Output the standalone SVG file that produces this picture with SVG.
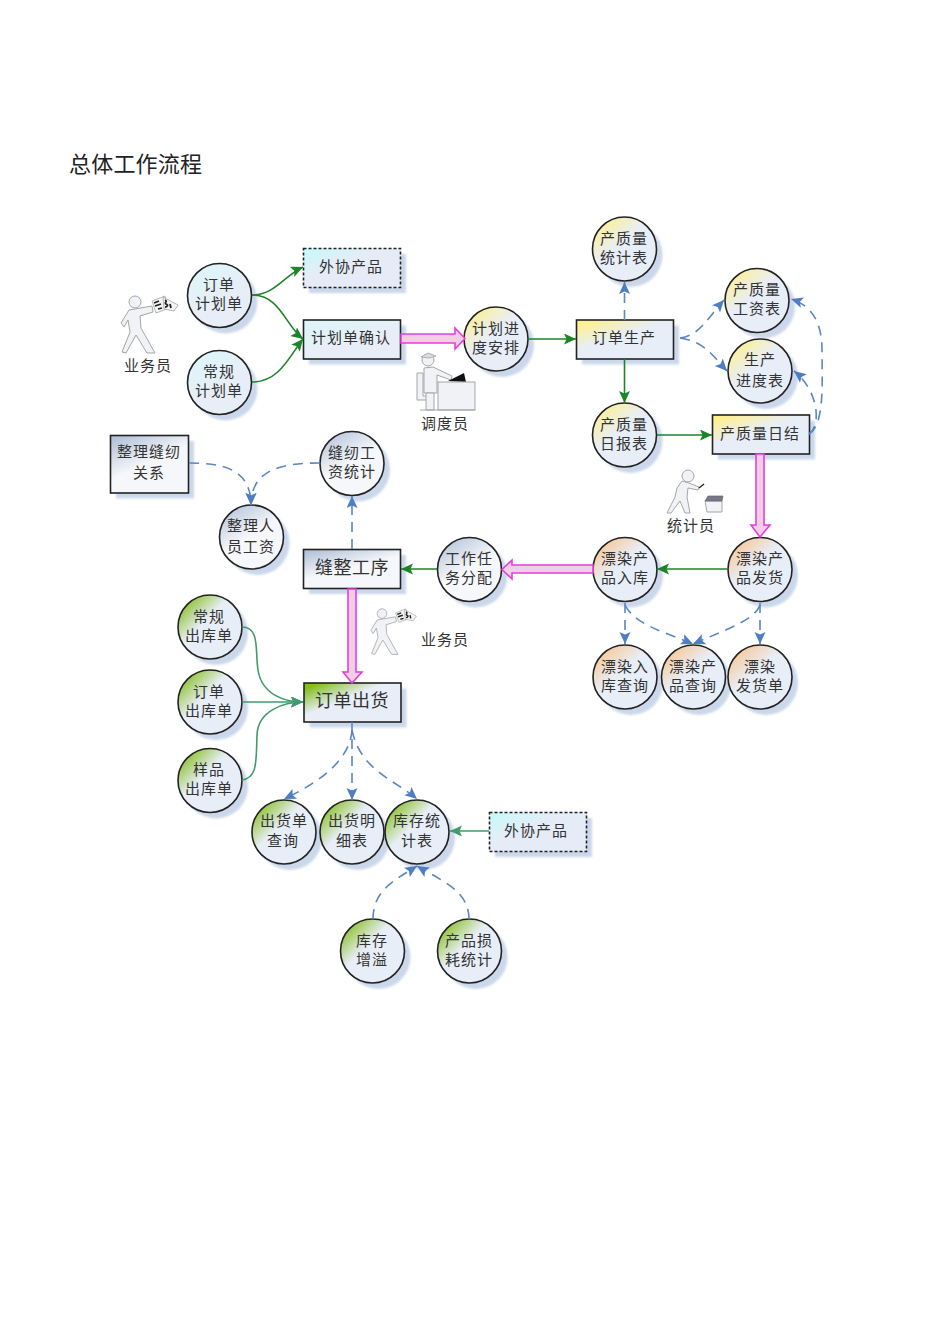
<svg xmlns="http://www.w3.org/2000/svg" width="950" height="1344" viewBox="0 0 950 1344">
<style>
text{font-family:"Noto Sans CJK SC","Liberation Sans",sans-serif;fill:#333;font-size:15px;letter-spacing:1px;text-anchor:middle}
.big{font-size:18px;letter-spacing:.5px}
.title{font-size:22px;letter-spacing:.2px;text-anchor:start;fill:#222}
.sh{fill:#c6d3e8;opacity:.9;filter:url(#blur)}
.n{stroke:#222;stroke-width:1.6}
.dash{stroke-dasharray:3 2}
.blue{fill:url(#gBlue)}.yel{fill:url(#gYel)}.ora{fill:url(#gOra)}.grn{fill:url(#gGrn)}.gry{fill:url(#gGry)}.cya{fill:url(#gCya)}
.g{fill:none;stroke:#1d8428;stroke-width:1.6;marker-end:url(#mG)}
.t{fill:none;stroke:#3f9b6c;stroke-width:1.6;marker-end:url(#mT)}
.b{fill:none;stroke:#5a86c4;stroke-width:1.6;stroke-dasharray:10 7;marker-end:url(#mB)}
.p{fill:#f0cfe4;stroke:#e63ce0;stroke-width:1.6}
.fig{fill:#f1f2f5;stroke:#a4a6a8;stroke-width:1}
</style>
<defs>
<filter id="blur" x="-20%" y="-20%" width="140%" height="140%"><feGaussianBlur stdDeviation="1.2"/></filter>
<linearGradient id="gBlue" x1="0.15" y1="0" x2="0.55" y2="0.55"><stop offset="0" stop-color="#dcf6fa"/><stop offset="1" stop-color="#e8eef8"/></linearGradient>
<linearGradient id="gCya" x1="0" y1="0" x2="0.4" y2="0.4"><stop offset="0" stop-color="#c4fbfb"/><stop offset="1" stop-color="#e6ecf7"/></linearGradient>
<linearGradient id="gYel" x1="0.12" y1="0.02" x2="0.45" y2="0.42"><stop offset="0" stop-color="#fff08c"/><stop offset="1" stop-color="#e8eef8"/></linearGradient>
<linearGradient id="gOra" x1="0.12" y1="0.02" x2="0.45" y2="0.42"><stop offset="0" stop-color="#f9c48e"/><stop offset="1" stop-color="#e8eef8"/></linearGradient>
<linearGradient id="gGrn" x1="0.08" y1="0.08" x2="0.42" y2="0.42"><stop offset="0" stop-color="#84bd1c"/><stop offset="1" stop-color="#e8eef8"/></linearGradient>
<linearGradient id="gGry" x1="0.15" y1="0" x2="0.45" y2="0.5"><stop offset="0" stop-color="#b4c3da"/><stop offset="1" stop-color="#f6f7fa"/></linearGradient>
<marker id="mG" markerUnits="userSpaceOnUse" markerWidth="13" markerHeight="12" refX="12" refY="5.500" orient="auto"><path d="M0 0L12 5.500L0 11L2.500 5.500Z" fill="#1d8428"/></marker>
<marker id="mT" markerUnits="userSpaceOnUse" markerWidth="13" markerHeight="12" refX="12" refY="5.500" orient="auto"><path d="M0 0L12 5.500L0 11L2.500 5.500Z" fill="#3f9b6c"/></marker>
<marker id="mB" markerUnits="userSpaceOnUse" markerWidth="13" markerHeight="12" refX="12" refY="5.500" orient="auto"><path d="M0 0L12 5.500L0 11L2.500 5.500Z" fill="#4f7fc2"/></marker>
<g id="walker">
<circle class="fig" cx="135" cy="302" r="6"/>
<path class="fig" d="M129 310L152 306L153 312L140 316L141 328L155 353L147 353L136 335L126 353L122 352L130 332L128 320L124 327L121 323Z"/>
<path d="M152 301L165 296L167 309L156 313Z" fill="#f4f4f4" stroke="#999" stroke-width=".7"/>
<path d="M163 297L178 305L174 311L164 309Z" fill="#f4f4f4" stroke="#999" stroke-width=".7"/>
<path d="M154 303l5-2M155 306l6-2M158 309l4-1M165 300c3 1-1 3 1 4c3 1 1 3-1 3M170 304l1 4" fill="none" stroke="#222" stroke-width="1.800"/>
</g>
</defs>
<rect width="950" height="1344" fill="#fff"/>
<text class="title" x="69" y="172">总体工作流程</text>

<g id="n-dingdan"><circle class="sh" cx="225.500" cy="301.500" r="32"/><circle class="n blue" cx="219.500" cy="295.500" r="32"/><text x="219" y="290">订单</text><text x="219" y="309">计划单</text></g>
<g id="n-changgui"><circle class="sh" cx="225.500" cy="388.500" r="32"/><circle class="n blue" cx="219.500" cy="382.500" r="32"/><text x="219" y="377">常规</text><text x="219" y="396">计划单</text></g>
<g id="n-waixie1"><rect class="sh" x="309" y="254" width="97" height="39"/><rect class="n dash cya" x="303.500" y="248.500" width="97" height="39"/><text x="351" y="272">外协产品</text></g>
<g id="n-queren"><rect class="sh" x="309" y="325.500" width="97" height="39"/><rect class="n blue" x="303.500" y="320" width="97" height="39"/><text x="351" y="343">计划单确认</text></g>
<g id="n-jindu"><circle class="sh" cx="502" cy="345" r="32"/><circle class="n yel" cx="496" cy="339" r="32"/><text x="496" y="334">计划进</text><text x="496" y="353">度安排</text></g>
<g id="n-shengchan"><rect class="sh" x="582" y="325.500" width="97" height="39"/><rect class="n yel" x="576.500" y="320" width="97" height="39"/><text x="624" y="343">订单生产</text></g>
<g id="n-tongji"><circle class="sh" cx="630.500" cy="255" r="32"/><circle class="n yel" cx="624.500" cy="249" r="32"/><text x="624" y="244">产质量</text><text x="624" y="263">统计表</text></g>
<g id="n-gongzi"><circle class="sh" cx="763" cy="306.500" r="32"/><circle class="n yel" cx="757" cy="300.500" r="32"/><text x="757" y="295">产质量</text><text x="757" y="314">工资表</text></g>
<g id="n-jindubiao"><circle class="sh" cx="766" cy="377" r="32"/><circle class="n yel" cx="760" cy="371" r="32"/><text x="760" y="365">生产</text><text x="760" y="386">进度表</text></g>
<g id="n-ribao"><circle class="sh" cx="630.500" cy="441" r="32"/><circle class="n yel" cx="624.500" cy="435" r="32"/><text x="624" y="430">产质量</text><text x="624" y="449">日报表</text></g>
<g id="n-rijie"><rect class="sh" x="718" y="420.500" width="97" height="39"/><rect class="n yel" x="712.500" y="415" width="97" height="39"/><text x="760" y="439">产质量日结</text></g>
<g id="n-fahuo"><circle class="sh" cx="766" cy="575.500" r="32"/><circle class="n ora" cx="760" cy="569.500" r="32"/><text x="760" y="564">漂染产</text><text x="760" y="583">品发货</text></g>
<g id="n-ruku"><circle class="sh" cx="631" cy="575.500" r="32"/><circle class="n ora" cx="625" cy="569.500" r="32"/><text x="625" y="564">漂染产</text><text x="625" y="583">品入库</text></g>
<g id="n-renwu"><circle class="sh" cx="475.500" cy="575.500" r="32"/><circle class="n gry" cx="469.500" cy="569.500" r="32"/><text x="469" y="564">工作任</text><text x="469" y="583">务分配</text></g>
<g id="n-fengzheng"><rect class="sh" x="309" y="555" width="97" height="39"/><rect class="n gry" x="303.500" y="549.500" width="97" height="39"/><text class="big" x="352" y="574">缝整工序</text></g>
<g id="n-rukucx"><circle class="sh" cx="631" cy="683" r="32"/><circle class="n ora" cx="625" cy="677" r="32"/><text x="625" y="672">漂染入</text><text x="625" y="691">库查询</text></g>
<g id="n-chanpincx"><circle class="sh" cx="699.500" cy="683" r="32"/><circle class="n ora" cx="693.500" cy="677" r="32"/><text x="693" y="672">漂染产</text><text x="693" y="691">品查询</text></g>
<g id="n-fahuodan"><circle class="sh" cx="766" cy="683" r="32"/><circle class="n ora" cx="760" cy="677" r="32"/><text x="760" y="672">漂染</text><text x="760" y="691">发货单</text></g>
<g id="n-guanxi"><rect class="sh" x="116" y="441" width="78" height="57.500"/><rect class="n gry" x="110.500" y="435.500" width="78" height="57.500"/><text x="149" y="457">整理缝纫</text><text x="149" y="478">关系</text></g>
<g id="n-gongzitj"><circle class="sh" cx="358" cy="469.500" r="32"/><circle class="n gry" cx="352" cy="463.500" r="32"/><text x="352" y="458">缝纫工</text><text x="352" y="477">资统计</text></g>
<g id="n-renyuan"><circle class="sh" cx="257.500" cy="543" r="32"/><circle class="n gry" cx="251.500" cy="537" r="32"/><text x="251" y="531">整理人</text><text x="251" y="552">员工资</text></g>
<g id="n-chuhuo"><rect class="sh" x="309.500" y="688.500" width="97" height="39"/><rect class="n grn" x="304" y="683" width="97" height="39"/><text class="big" x="352" y="707">订单出货</text></g>
<g id="n-cg"><circle class="sh" cx="216" cy="633" r="32"/><circle class="n grn" cx="210" cy="627" r="32"/><text x="209" y="622">常规</text><text x="209" y="641">出库单</text></g>
<g id="n-dd"><circle class="sh" cx="216" cy="708" r="32"/><circle class="n grn" cx="210" cy="702" r="32"/><text x="209" y="697">订单</text><text x="209" y="716">出库单</text></g>
<g id="n-yp"><circle class="sh" cx="216" cy="786.500" r="32"/><circle class="n grn" cx="210" cy="780.500" r="32"/><text x="209" y="775">样品</text><text x="209" y="794">出库单</text></g>
<g id="n-chd"><circle class="sh" cx="290" cy="838" r="32"/><circle class="n grn" cx="284" cy="832" r="32"/><text x="284" y="826">出货单</text><text x="283" y="846">查询</text></g>
<g id="n-mx"><circle class="sh" cx="358" cy="838" r="32"/><circle class="n grn" cx="352" cy="832" r="32"/><text x="352" y="826">出货明</text><text x="352" y="846">细表</text></g>
<g id="n-kc"><circle class="sh" cx="423" cy="838" r="32"/><circle class="n grn" cx="417" cy="832" r="32"/><text x="417" y="826">库存统</text><text x="417" y="846">计表</text></g>
<g id="n-waixie2"><rect class="sh" x="495" y="818" width="97" height="39"/><rect class="n dash cya" x="489.500" y="812.500" width="97" height="39"/><text x="536" y="836">外协产品</text></g>
<g id="n-zy"><circle class="sh" cx="378.500" cy="957" r="32"/><circle class="n grn" cx="372.500" cy="951" r="32"/><text x="372" y="946">库存</text><text x="372" y="965">增溢</text></g>
<g id="n-sh"><circle class="sh" cx="475.500" cy="957" r="32"/><circle class="n grn" cx="469.500" cy="951" r="32"/><text x="469" y="946">产品损</text><text x="469" y="965">耗统计</text></g>

<g id="connectors">
<path class="g" d="M252 295C275 295 285 275 303 267"/>
<path class="g" d="M252 295C280 295 285 325 303 339"/>
<path class="g" d="M252 382C280 382 290 355 303 339"/>
<path class="g" d="M528 339H576"/>
<path class="g" d="M624.500 359V403"/>
<path class="g" d="M657 435H712"/>
<path class="g" d="M727 569H657"/>
<path class="g" d="M437 569H401"/>
<path class="b" d="M624.500 320V282"/>
<path class="b" d="M680 338C700 335 706 320 724 300"/>
<path class="b" d="M680 338C705 342 712 355 727 371"/>
<path class="b" d="M809 434C825 425 822 380 822 350C822 320 810 305 791 299"/>
<path class="b" d="M809 434C822 425 818 390 794 371"/>
<path class="b" d="M625 603V644"/>
<path class="b" d="M760 603V644"/>
<path class="b" d="M625 605C635 625 665 632 693 644"/>
<path class="b" d="M760 605C755 620 725 630 693 644"/>
<path class="b" d="M352 549V496"/>
<path class="b" d="M189 463C225 463 251 470 251 505"/>
<path class="b" d="M320 463C280 463 251 470 251 505"/>
<path class="t" d="M242 627C260 627 255 650 258 670C262 695 285 702 303 702"/>
<path class="t" d="M242 702H303"/>
<path class="t" d="M242 780C258 778 256 760 257 735C258 710 285 702 303 702"/>
<path class="b" d="M352 730C350 760 320 782 284 799"/>
<path class="b" d="M352 722V800"/>
<path class="b" d="M352 730C360 770 395 780 417 799"/>
<path class="t" d="M489 831H450"/>
<path class="b" d="M373 919C373 890 395 880 417 866"/>
<path class="b" d="M469 919C469 890 440 880 417 866"/>
<path class="p" d="M401 334H455V328L465 338.500L455 349V343H401Z"/>
<path class="p" d="M756 454H764V525H770L760 537L751 525H756Z"/>
<path class="p" d="M593 565V573H512V579L502 569.500L512 560V565Z"/>
<path class="p" d="M348 589H356V672H362L352 683L343 672H348Z"/>
</g>

<g id="p-yewu1"><use href="#walker"/><text x="148" y="371">业务员</text></g>
<g id="p-yewu2"><use href="#walker" transform="translate(274 372) scale(.8 .8)"/><text x="445" y="645">业务员</text></g>
<g id="p-diaodu">
<path class="fig" d="M417 373H423V396H431V400H417Z"/>
<circle class="fig" cx="428" cy="360" r="6"/>
<path d="M421 357L428 353L436 356L429 358Z" fill="#ddd" stroke="#999" stroke-width=".7"/>
<path class="fig" d="M424 368L433 367L452 376L451 380L437 375V393H424Z"/>
<path class="fig" d="M426 393H434V410H426Z"/>
<path d="M448 381L464 373L466 382Z" fill="#111"/>
<rect class="fig" x="438" y="382" width="37" height="28"/>
<path d="M420 410H475" stroke="#a4a6a8" fill="none"/>
<text x="445" y="429">调度员</text>
</g>
<g id="p-tongji">
<circle class="fig" cx="688" cy="476" r="6"/>
<path class="fig" d="M682 481L689 483L699 487L698 490L688 488L687 497L690 513H685L680 501L671 513H667L675 497L677 488Z"/>
<path d="M699 488L704 484" stroke="#222" stroke-width="1.500" fill="none"/>
<path class="fig" d="M705 501H722V512H707Z"/>
<path d="M705 501L708 496H723L722 501Z" fill="#778" stroke="#667" stroke-width=".7"/>
<text x="691" y="531">统计员</text>
</g>
</svg>
